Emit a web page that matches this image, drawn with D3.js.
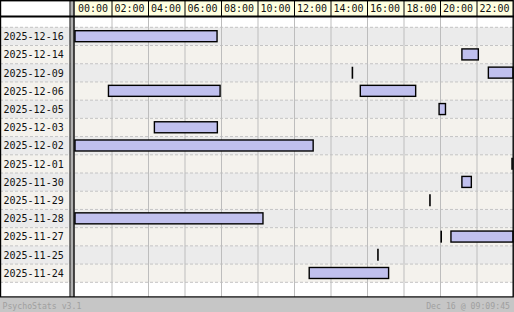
<!DOCTYPE html>
<meta charset="utf-8">
<style>
body { margin: 0; background: #fff; }
text { font-family: "DejaVu Sans Mono", monospace; }
</style>
<svg width="514" height="312"></svg>
<script src="https://cdn.jsdelivr.net/npm/d3@7"></script>
<script>

// days shown (newest first)
var days = ["2025-12-16", "2025-12-14", "2025-12-09", "2025-12-06", "2025-12-05",
            "2025-12-03", "2025-12-02", "2025-12-01", "2025-11-30", "2025-11-29",
            "2025-11-28", "2025-11-27", "2025-11-25", "2025-11-24"];

// sessions: day, start, end (same start and end = instant)
var sessionDay   = ["2025-12-16", "2025-12-14", "2025-12-09", "2025-12-09", "2025-12-06",
                    "2025-12-06", "2025-12-05", "2025-12-03", "2025-12-02", "2025-12-01",
                    "2025-11-30", "2025-11-29", "2025-11-28", "2025-11-27", "2025-11-27",
                    "2025-11-25", "2025-11-24"];
var sessionStart = ["00:00", "21:12", "15:12", "22:39", "01:50",
                    "15:38", "19:57", "04:21", "00:00", "23:57",
                    "21:12", "19:27", "00:00", "20:04", "20:36",
                    "16:36", "12:50"];
var sessionEnd   = ["07:47", "22:06", "15:12", "24:00", "07:57",
                    "18:40", "20:18", "07:48", "13:03", "23:57",
                    "21:43", "19:27", "10:18", "20:04", "24:00",
                    "16:36", "17:11"];

var hourTicks = [0, 2, 4, 6, 8, 10, 12, 14, 16, 18, 20, 22];
var footerLeft = "PsychoStats v3.1";
var footerRight = "Dec 16 @ 09:09:45";

function hours(s) {
  var p = s.split(":");
  return +p[0] + p[1] / 60;
}

var svg = d3.select("svg"),
    W = 514,
    left = 75, right = 513,
    headH = 16.5, rowsTop = 27.3, rowsBottom = 282.3, chartBottom = 297;

var x = d3.scaleLinear().domain([0, 24]).range([left, right]);
var y = d3.scaleBand().domain(days).range([rowsTop, rowsBottom]);

// background
svg.append("rect").attr("x", 0).attr("y", 0).attr("width", W).attr("height", chartBottom)
    .attr("fill", "#fff");

// row stripes, label column + chart
svg.selectAll(".row")
    .data(days)
  .enter().append("rect")
    .attr("x", 0)
    .attr("y", function(d) { return y(d); })
    .attr("width", right)
    .attr("height", y.bandwidth())
    .attr("fill", function(d, i) { return i % 2 ? "#f4f2ed" : "#ebebeb"; });

// header band
svg.append("rect").attr("x", left).attr("y", 0).attr("width", right - left).attr("height", headH)
    .attr("fill", "#ffffe0");

// dashed row separators
var seps = days.map(function(d) { return y(d); }).concat([rowsBottom]);
svg.selectAll(".sep")
    .data(seps)
  .enter().append("line")
    .attr("x1", 0).attr("x2", right)
    .attr("y1", function(d) { return d; }).attr("y2", function(d) { return d; })
    .attr("stroke", "#c4c4c4")
    .attr("stroke-dasharray", "3,2");

// vertical grid
svg.selectAll(".grid")
    .data(hourTicks.slice(1))
  .enter().append("line")
    .attr("x1", function(d) { return x(d) + 0.5; }).attr("x2", function(d) { return x(d) + 0.5; })
    .attr("y1", headH).attr("y2", chartBottom)
    .attr("stroke", "#bdbdbd");

// header separators
svg.selectAll(".hsep")
    .data(hourTicks.slice(1))
  .enter().append("line")
    .attr("x1", function(d) { return x(d) + 0.5; }).attr("x2", function(d) { return x(d) + 0.5; })
    .attr("y1", 0).attr("y2", headH)
    .attr("stroke", "#000");

// header labels
svg.selectAll(".hlab")
    .data(hourTicks)
  .enter().append("text")
    .attr("x", function(d) { return x(d) + 3; })
    .attr("y", 12)
    .attr("font-size", "10px")
    .attr("fill", "#111")
    .text(function(d) { return d3.format("02")(d) + ":00"; });

// day labels
svg.selectAll(".dlab")
    .data(days)
  .enter().append("text")
    .attr("x", 3.5)
    .attr("y", function(d) { return y(d) + 12.8; })
    .attr("font-size", "10px")
    .attr("fill", "#111")
    .text(function(d) { return d; });

// sessions
var sessions = sessionDay.map(function(d, i) {
  return {day: d, start: hours(sessionStart[i]), end: hours(sessionEnd[i])};
});

svg.selectAll(".bar")
    .data(sessions.filter(function(s) { return s.end > s.start; }))
  .enter().append("rect")
    .attr("x", function(d) { return x(d.start); })
    .attr("y", function(d) { return y(d.day) + 3.4; })
    .attr("width", function(d) { return x(d.end) - x(d.start); })
    .attr("height", 11)
    .attr("fill", "#c0c0ee")
    .attr("stroke", "#000")
    .attr("stroke-width", 1.4);

svg.selectAll(".inst")
    .data(sessions.filter(function(s) { return s.end <= s.start; }))
  .enter().append("line")
    .attr("x1", function(d) { return x(d.start); }).attr("x2", function(d) { return x(d.start); })
    .attr("y1", function(d) { return y(d.day) + 3; })
    .attr("y2", function(d) { return y(d.day) + 15; })
    .attr("stroke", "#000")
    .attr("stroke-width", 1.6);

// label column divider
svg.append("rect").attr("x", 70.5).attr("y", 0).attr("width", 3).attr("height", chartBottom)
    .attr("fill", "#b0b0b0");
svg.append("line").attr("x1", 70).attr("x2", 70).attr("y1", 0).attr("y2", chartBottom)
    .attr("stroke", "#000").attr("stroke-width", 1);
svg.append("line").attr("x1", 74).attr("x2", 74).attr("y1", 0).attr("y2", chartBottom)
    .attr("stroke", "#000").attr("stroke-width", 1.4);

// header bottom line
svg.append("line").attr("x1", 0).attr("x2", W).attr("y1", headH).attr("y2", headH)
    .attr("stroke", "#000").attr("stroke-width", 1.8);

// outer frame
svg.append("rect").attr("x", 0.5).attr("y", 0.7).attr("width", right - 0.3).attr("height", chartBottom - 0.7)
    .attr("fill", "none").attr("stroke", "#000").attr("stroke-width", 1.4);

// footer
svg.append("rect").attr("x", 0).attr("y", chartBottom + 0.8).attr("width", W).attr("height", 312 - chartBottom)
    .attr("fill", "#c6c6c6");
svg.append("text").attr("x", 2.5).attr("y", 309).attr("font-size", "8.2px").attr("fill", "#a0a0a0")
    .text(footerLeft);
svg.append("text").attr("x", 510).attr("y", 309).attr("text-anchor", "end").attr("font-size", "8.2px")
    .attr("fill", "#a0a0a0").text(footerRight);

</script>
